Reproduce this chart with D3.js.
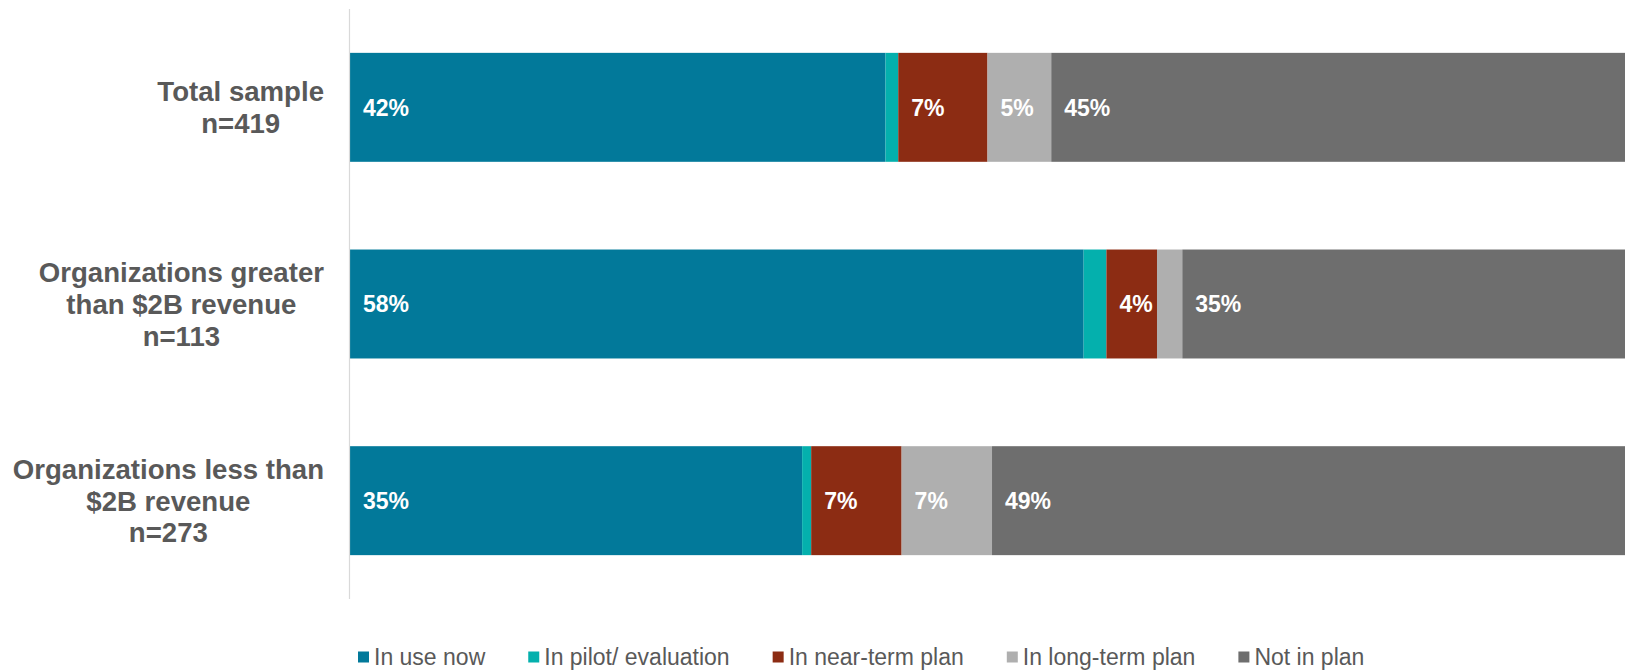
<!DOCTYPE html>
<html>
<head>
<meta charset="utf-8">
<script src="https://cdn.jsdelivr.net/npm/d3@7"></script>
<style>
  html, body { margin: 0; padding: 0; background: #ffffff; }
  svg { display: block; }
  text { font-family: "Liberation Sans", Arial, Helvetica, sans-serif; }
</style>
</head>
<body>
<svg id="chart" width="1625" height="671"></svg>
<script>
// Adoption status by organization size (shares of respondents, %)
const categories = [
  ["Total sample", "n=419"],
  ["Organizations greater", "than $2B revenue", "n=113"],
  ["Organizations less than", "$2B revenue", "n=273"]
];
const seriesNames = ["In use now", "In pilot/ evaluation", "In near-term plan", "In long-term plan", "Not in plan"];
const seriesColors = ["#02799A", "#04B0AD", "#8C2C13", "#AFAFAF", "#6E6E6E"];
const inUseNow      = [42, 58, 35];
const inPilot       = [1, 1.8, 0.7];
const nearTermPlan  = [7, 4, 7];
const longTermPlan  = [5, 2, 7];
const notInPlan     = [45, 35, 49];
// Which series print their value inside the segment
const labelledSeries = [true, false, true, true, true];
const hiddenLabels = [[], [3], []]; // per row: series too narrow to print

const seriesValues = [inUseNow, inPilot, nearTermPlan, longTermPlan, notInPlan];
const rows = categories.map((c, i) => {
  const r = { key: i };
  seriesNames.forEach((s, j) => { r[s] = seriesValues[j][i]; });
  return r;
});

const svg = d3.select("#chart");
const plot = { left: 350, right: 1625, top: 9, bottom: 599 };

const x = d3.scaleLinear().domain([0, 1]).range([plot.left, plot.right]);
const y = d3.scaleBand()
  .domain(categories.map((c, i) => i))
  .range([plot.top, plot.bottom])
  .paddingInner(0.446)
  .paddingOuter(0.223);
const color = d3.scaleOrdinal().domain(seriesNames).range(seriesColors);

const stacked = d3.stack()
  .keys(seriesNames)
  .offset(d3.stackOffsetExpand)(rows);

// Bars
const layers = svg.append("g")
  .selectAll("g.layer")
  .data(stacked)
  .join("g")
  .attr("class", "layer")
  .attr("fill", d => color(d.key));

layers.selectAll("rect")
  .data(d => d)
  .join("rect")
  .attr("x", d => x(d[0]))
  .attr("y", d => y(d.data.key))
  .attr("width", d => x(d[1]) - x(d[0]))
  .attr("height", y.bandwidth());

// Value labels, left-aligned inside each segment
const valueFont = 23;
stacked.forEach((layer, si) => {
  if (!labelledSeries[si]) return;
  svg.append("g").selectAll("text")
    .data(layer.filter(d => !(hiddenLabels[d.data.key] || []).includes(si)))
    .join("text")
    .attr("x", d => x(d[0]) + 13)
    .attr("y", d => y(d.data.key) + y.bandwidth() / 2 + valueFont * 0.36)
    .attr("fill", "#ffffff")
    .attr("font-size", valueFont)
    .attr("font-weight", "bold")
    .text(d => d3.format(".0f")(d.data[layer.key]) + "%");
});

// Category axis line
svg.append("line")
  .attr("x1", plot.left - 0.5).attr("x2", plot.left - 0.5)
  .attr("y1", plot.top).attr("y2", plot.bottom)
  .attr("stroke", "#d9d9d9")
  .attr("stroke-width", 1.2);

// Category labels: lines centred on each other, block right-aligned to the axis
const catFont = 27.6, catLine = 31.6, catRight = 324;
categories.forEach((lines, i) => {
  const t = svg.append("text")
    .attr("font-size", catFont)
    .attr("font-weight", "bold")
    .attr("fill", "#595959")
    .attr("text-anchor", "middle");
  const cy = y(i) + y.bandwidth() / 2;
  const first = cy - (lines.length - 1) * catLine / 2 + catFont * 0.36;
  const spans = lines.map((ln, k) => t.append("tspan")
    .attr("y", first + k * catLine)
    .text(ln));
  const maxW = d3.max(spans, s => s.node().getComputedTextLength());
  spans.forEach(s => s.attr("x", catRight - maxW / 2));
});

// Legend
const legFont = 23, legSq = 11, legGap = 43, legTextOff = 16;
const legend = svg.append("g");
let lx = 358;
seriesNames.forEach((name, i) => {
  const g = legend.append("g").attr("transform", `translate(${lx},0)`);
  g.append("rect")
    .attr("x", 0).attr("y", 651.5)
    .attr("width", legSq).attr("height", legSq)
    .attr("fill", color(name));
  const t = g.append("text")
    .attr("x", legTextOff).attr("y", 664.5)
    .attr("font-size", legFont)
    .attr("fill", "#595959")
    .text(name);
  lx += legTextOff + t.node().getComputedTextLength() + legGap;
});
</script>
</body>
</html>
